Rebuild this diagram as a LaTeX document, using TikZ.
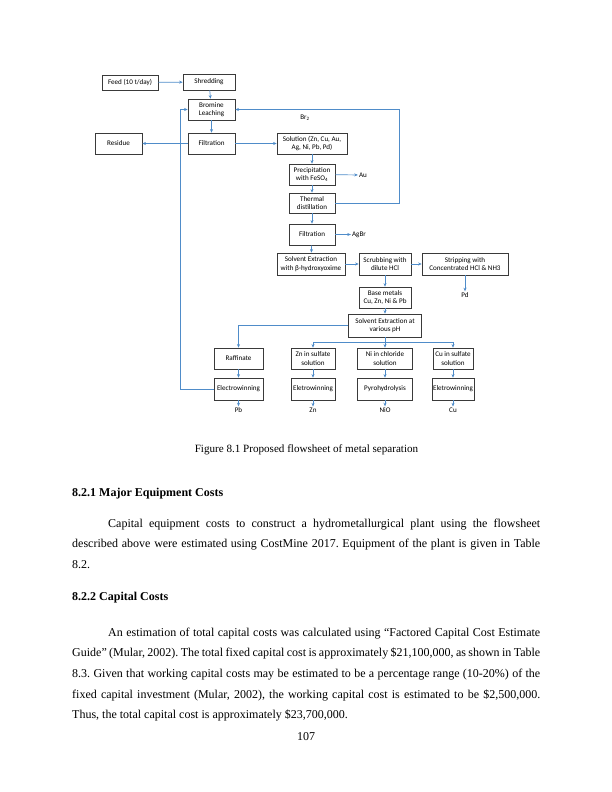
\documentclass[tikz,border=0pt]{standalone}
\usepackage{fontspec}
\setmainfont{Liberation Serif}
\newfontfamily\flowfont{Carlito}
\usetikzlibrary{positioning, arrows.meta}
\definecolor{flowblue}{HTML}{4F8CC9}
\definecolor{boxline}{HTML}{3A3A3A}
\tikzset{
  unit/.style={draw=boxline, line width=0.55pt, fill=white, align=center,
               font=\flowfont\fontsize{7.1}{8.3}\selectfont, inner sep=1pt, minimum height=21pt},
  stream/.style={font=\flowfont\fontsize{7.1}{8.3}\selectfont, inner sep=1pt},
  flow/.style={draw=flowblue, line width=0.7pt, -{Stealth[length=3.6pt, width=3pt]}},
  pline/.style={draw=flowblue, line width=0.7pt},
  heading/.style={anchor=base west, inner sep=0pt, font=\bfseries\fontsize{12}{14}\selectfont},
  bodytext/.style={anchor=base west, inner sep=0pt, text width=468pt, align=justify,
                   font=\fontsize{12}{20.7}\selectfont\frenchspacing}
}

\begin{document}
\begin{tikzpicture}[x=1pt, y=1pt]
  \useasboundingbox (0,0) rectangle (612,-792);

  \node[unit, minimum width=56pt, minimum height=15pt] (feed) at (130,-82.5) {Feed (10 t/day)};
  \node[unit, minimum width=52pt, minimum height=16pt] (shred) at (209,-82) {Shredding};
  \node[unit, minimum width=47pt] (leach) at (211.5,-109.5) {Bromine\\Leaching};
  \node[unit, minimum width=47pt] (filt) at (211.5,-143.5) {Filtration};
  \node[unit, minimum width=47pt] (residue) at (118.5,-143.5) {Residue};
  \node[unit, minimum width=70pt] (soln) at (312,-143.5) {Solution (Zn, Cu, Au,\\Ag, Ni, Pb, Pd)};
  \node[unit, minimum width=46pt] (precip) at (312,-174.5) {Precipitation\\with FeSO\textsubscript{4}};
  \node[unit, minimum width=46pt, minimum height=20pt] (distil) at (312,-203) {Thermal\\distillation};
  \node[unit, minimum width=46pt] (filtb) at (312,-234.5) {Filtration};
  \node[unit, minimum width=68pt, minimum height=22pt] (sxoxime) at (311,-264) {Solvent Extraction\\with β-hydroxyoxime};
  \node[unit, minimum width=52pt, minimum height=22pt] (scrub) at (385,-264) {Scrubbing with\\dilute HCl};
  \node[unit, minimum width=86pt, minimum height=22pt] (strip) at (465,-264) {Stripping with\\Concentrated HCl \& NH3};
  \node[unit, minimum width=52pt] (base) at (385,-297.5) {Base metals\\Cu, Zn, Ni \& Pb};
  \node[unit, minimum width=73pt, minimum height=23pt] (sxph) at (385,-325.5) {Solvent Extraction at\\various pH};

  \node[unit, minimum width=49pt] (raff) at (238.5,-358.5) {Raffinate};
  \node[unit, minimum width=44pt] (znsol) at (313,-358.5) {Zn in sulfate\\solution};
  \node[unit, minimum width=55pt] (nisol) at (385,-358.5) {Ni in chloride\\solution};
  \node[unit, minimum width=40pt] (cusol) at (453,-358.5) {Cu in sulfate\\solution};

  \node[unit, minimum width=49pt, minimum height=22pt] (ewpb) at (238.5,-389) {Electrowinning};
  \node[unit, minimum width=44pt, minimum height=22pt] (ewzn) at (313,-389) {Eletrowinning};
  \node[unit, minimum width=55pt, minimum height=22pt] (pyro) at (385,-389) {Pyrohydrolysis};
  \node[unit, minimum width=40pt, minimum height=22pt] (ewcu) at (453,-389) {Eletrowinning};

  \node[stream] (pb) at (238.5,-410) {Pb};
  \node[stream] (zn) at (313,-410) {Zn};
  \node[stream] (nio) at (385,-410) {NiO};
  \node[stream] (cu) at (453,-410) {Cu};
  \node[stream] (au) at (363,-175) {Au};
  \node[stream] (agbr) at (359,-234.5) {AgBr};
  \node[stream] (pd) at (465,-295) {Pd};
  \node[stream] (brlabel) at (305,-118) {Br\textsubscript{2}};

  \coordinate (brcorner) at (399,-109.5);
  \coordinate (ewcorner) at (180,-109.5);
  \coordinate (bus) at (385,-342);

  \draw[flow] (feed) -- (shred);
  \draw[flow] (shred) -- (leach);
  \draw[flow] (leach) -- (filt);
  \draw[flow] (filt) -- (residue);
  \draw[flow] (filt) -- (soln);
  \draw[flow] (soln) -- (precip);
  \draw[flow] (precip) -- (distil);
  \draw[flow] (distil) -- (filtb);
  \draw[flow] (filtb) -- (sxoxime);
  \draw[flow] (precip) -- (au);
  \draw[flow] (filtb) -- (agbr);
  \draw[flow] (distil.east) -| (brcorner) -- (leach.east);
  \draw[flow] (ewpb.west) -| (ewcorner) -- (leach.west);
  \draw[flow] (sxoxime) -- (scrub);
  \draw[flow] (scrub) -- (strip);
  \draw[flow] (strip) -- (pd);
  \draw[flow] (scrub) -- (base);
  \draw[flow] (base) -- (sxph);
  \draw[flow] (sxph.west) -| (raff.north);
  \draw[pline] (sxph.south) -- (bus);
  \draw[pline] (znsol.north |- bus) -- (cusol.north |- bus);
  \draw[flow] (bus) -- (nisol);
  \draw[flow] (znsol.north |- bus) -- (znsol);
  \draw[flow] (cusol.north |- bus) -- (cusol);
  \draw[flow] (raff) -- (ewpb);
  \draw[flow] (znsol) -- (ewzn);
  \draw[flow] (nisol) -- (pyro);
  \draw[flow] (cusol) -- (ewcu);
  \draw[flow] (ewpb) -- (pb);
  \draw[flow] (ewzn) -- (zn);
  \draw[flow] (pyro) -- (nio);
  \draw[flow] (ewcu) -- (cu);

  \node[anchor=base, inner sep=0pt, font=\fontsize{11.1}{13}\selectfont] (caption) at (306.5,-452)
    {Figure 8.1 Proposed flowsheet of metal separation};
  \node[heading] (majorhead) at (72,-496) {8.2.1 Major Equipment Costs};
  \node[bodytext] (majorpara) at (72,-527) {\hspace*{36pt}Capital equipment costs to construct a
    hydrometallurgical plant using the flowsheet\linebreak described above were estimated using
    CostMine 2017. Equipment of the plant is given in Table\linebreak 8.2.};
  \node[heading] (capitalhead) at (72,-600) {8.2.2 Capital Costs};
  \node[bodytext] (capitalpara) at (72,-636) {\hspace*{36pt}An estimation of total capital costs
    was calculated using ``Factored Capital Cost Estimate\linebreak Guide'' (Mular, 2002). The
    total fixed capital cost is approximately \$21,100,000, as shown in Table\linebreak 8.3. Given
    that working capital costs may be estimated to be a percentage range (10-20\%) of
    the\linebreak fixed capital investment (Mular, 2002), the working capital cost is estimated to
    be \$2,500,000.\linebreak Thus, the total capital cost is approximately \$23,700,000.};
  \node[anchor=base, inner sep=0pt, font=\fontsize{12}{14}\selectfont] (pagenum) at (306,-740) {107};
\end{tikzpicture}
\end{document}
